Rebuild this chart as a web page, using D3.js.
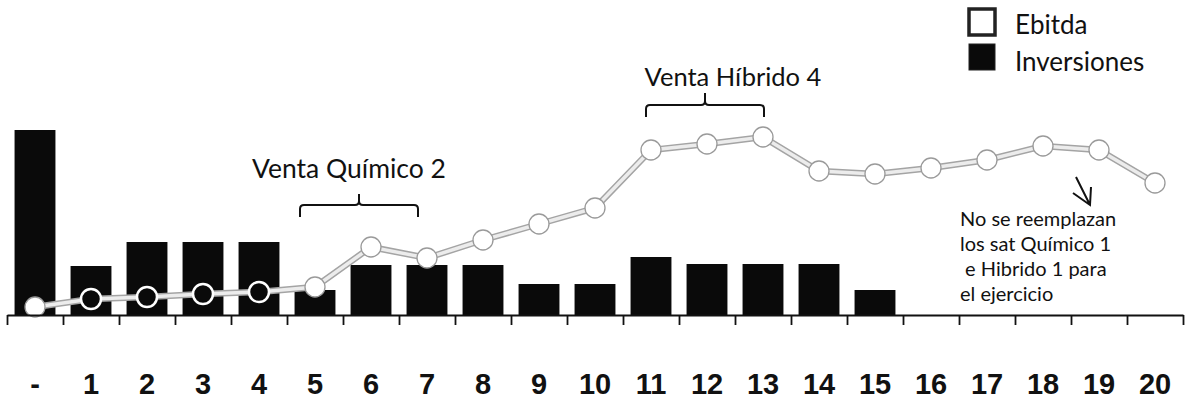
<!DOCTYPE html>
<html lang="es">
<head>
<meta charset="UTF-8">
<title>Ebitda e Inversiones</title>
<script src="https://cdn.jsdelivr.net/npm/d3@7"></script>
<style>
  body { margin: 0; background: #fff; }
  svg { display: block; }
  .note { font-family: Lato, "Open Sans", sans-serif; fill: #111; }
  .xlab text { font-family: "Liberation Sans", Arial, sans-serif; font-weight: bold; font-size: 29px; fill: #111; }
</style>
</head>
<body>
<div id="chart"></div>
<script>
// data
const periodos = ["-", "1", "2", "3", "4", "5", "6", "7", "8", "9", "10",
  "11", "12", "13", "14", "15", "16", "17", "18", "19", "20"];
const inversiones = [18.5, 4.9, 7.3, 7.3, 7.3, 2.5, 5.0, 5.0, 5.0, 3.1, 3.1,
  5.8, 5.1, 5.1, 5.1, 2.5, 0, 0, 0, 0, 0];
const ebitda = [0.8, 1.6, 1.8, 2.1, 2.3, 2.8, 6.8, 5.7, 7.5, 9.1, 10.7,
  16.5, 17.1, 17.8, 14.4, 14.1, 14.7, 15.5, 16.9, 16.5, 13.2];
const leyenda = ["Ebitda", "Inversiones"];
const nota = ["No se reemplazan", "los sat Químico 1", " e Hibrido 1 para", "el ejercicio"];

const W = 1185, H = 401;
const svg = d3.select("#chart").append("svg")
  .attr("width", W).attr("height", H);

const left = 7, right = 1183, base = 315;

// band scale for the bars, linear one for the tick marks between periods
const x = d3.scaleBand().domain(periodos).range([left, right])
  .paddingInner(0.27).paddingOuter(0.135);
const xt = d3.scaleLinear().domain([0, periodos.length]).range([left, right]);
const y = d3.scaleLinear().domain([0, 20]).range([base, base - 200]);

// bars
svg.append("g").selectAll("rect")
  .data(inversiones)
  .join("rect")
  .attr("x", (d, i) => x(periodos[i]))
  .attr("y", d => y(d))
  .attr("width", x.bandwidth())
  .attr("height", d => base - y(d))
  .attr("fill", "#0a0a0a");

// ebitda line
const cx = (d, i) => x(periodos[i]) + x.bandwidth() / 2;
const line = d3.line().x(cx).y(d => y(d));
const inBar = (d, i) => i > 0 && y(d) - 10 > y(inversiones[i]);
const lg = svg.append("g");
lg.append("path").datum(ebitda).attr("d", line)
  .attr("fill", "none").attr("stroke", "#a4a4a4").attr("stroke-width", 6.5);
lg.append("path").datum(ebitda).attr("d", line)
  .attr("fill", "none").attr("stroke", "#ececec").attr("stroke-width", 3.5);
lg.selectAll("circle")
  .data(ebitda)
  .join("circle")
  .attr("cx", cx)
  .attr("cy", d => y(d))
  .attr("r", 10)
  .attr("fill", (d, i) => inBar(d, i) ? "#0a0a0a" : "#fff")
  .attr("stroke", (d, i) => inBar(d, i) ? "#fff" : "#9a9a9a")
  .attr("stroke-width", (d, i) => inBar(d, i) ? 2.5 : 1.3);

// axis line with ticks between periods
svg.append("g")
  .attr("transform", `translate(0,${base})`)
  .call(d3.axisBottom(xt).tickValues(d3.range(periodos.length + 1))
    .tickFormat("").tickSize(10).tickSizeOuter(0))
  .call(g => g.selectAll("path,line").attr("stroke", "#111").attr("stroke-width", 1.8));

// period labels
svg.append("g")
  .attr("class", "xlab")
  .attr("transform", `translate(0,${base})`)
  .call(d3.axisBottom(x).tickSize(0))
  .call(g => g.select(".domain").remove())
  .call(g => g.selectAll("text").attr("y", 79).attr("dy", 0));

// brackets
function bracket(x0, x1, yb, h, s) {
  const m = (x0 + x1) / 2, r = 4;
  return `M${x0},${yb + h}V${yb + r}Q${x0},${yb} ${x0 + r},${yb}H${m - r}` +
    `Q${m},${yb} ${m},${yb - r}V${yb - s}M${m},${yb - r}Q${m},${yb} ${m + r},${yb}` +
    `H${x1 - r}Q${x1},${yb} ${x1},${yb + r}V${yb + h}`;
}
svg.append("path").attr("d", bracket(300, 418, 205, 12, 11))
  .attr("fill", "none").attr("stroke", "#111").attr("stroke-width", 2);
svg.append("path").attr("d", bracket(646, 764, 105, 12, 12))
  .attr("fill", "none").attr("stroke", "#111").attr("stroke-width", 2);

svg.append("text").attr("class", "note")
  .attr("x", 349).attr("y", 178).attr("text-anchor", "middle")
  .style("font-size", "26.5px").text("Venta Químico 2");
svg.append("text").attr("class", "note")
  .attr("x", 733).attr("y", 86).attr("text-anchor", "middle")
  .style("font-size", "25.5px").text("Venta Híbrido 4");

// side note and arrow
svg.append("text").attr("class", "note")
  .attr("x", 960).attr("y", 226)
  .style("font-size", "20px").attr("xml:space", "preserve")
  .selectAll("tspan").data(nota).join("tspan")
  .attr("x", 960).attr("dy", (d, i) => i ? 25 : 0)
  .text(d => d);
svg.append("path")
  .attr("d", "M1076,177L1090,205M1073,193L1090,205L1091,187")
  .attr("fill", "none").attr("stroke", "#111").attr("stroke-width", 2);

// legend
const leg = svg.append("g");
leg.selectAll("rect").data(leyenda).join("rect")
  .attr("x", 969).attr("y", (d, i) => 9 + i * 35)
  .attr("width", 26).attr("height", 26)
  .attr("fill", (d, i) => i ? "#0a0a0a" : "#fff")
  .attr("stroke", "#222").attr("stroke-width", (d, i) => i ? 1 : 3.5);
leg.selectAll("text").data(leyenda).join("text")
  .attr("class", "note")
  .attr("x", 1015).attr("y", (d, i) => 34 + i * 37)
  .style("font-size", "26px")
  .text(d => d);
</script>
</body>
</html>
